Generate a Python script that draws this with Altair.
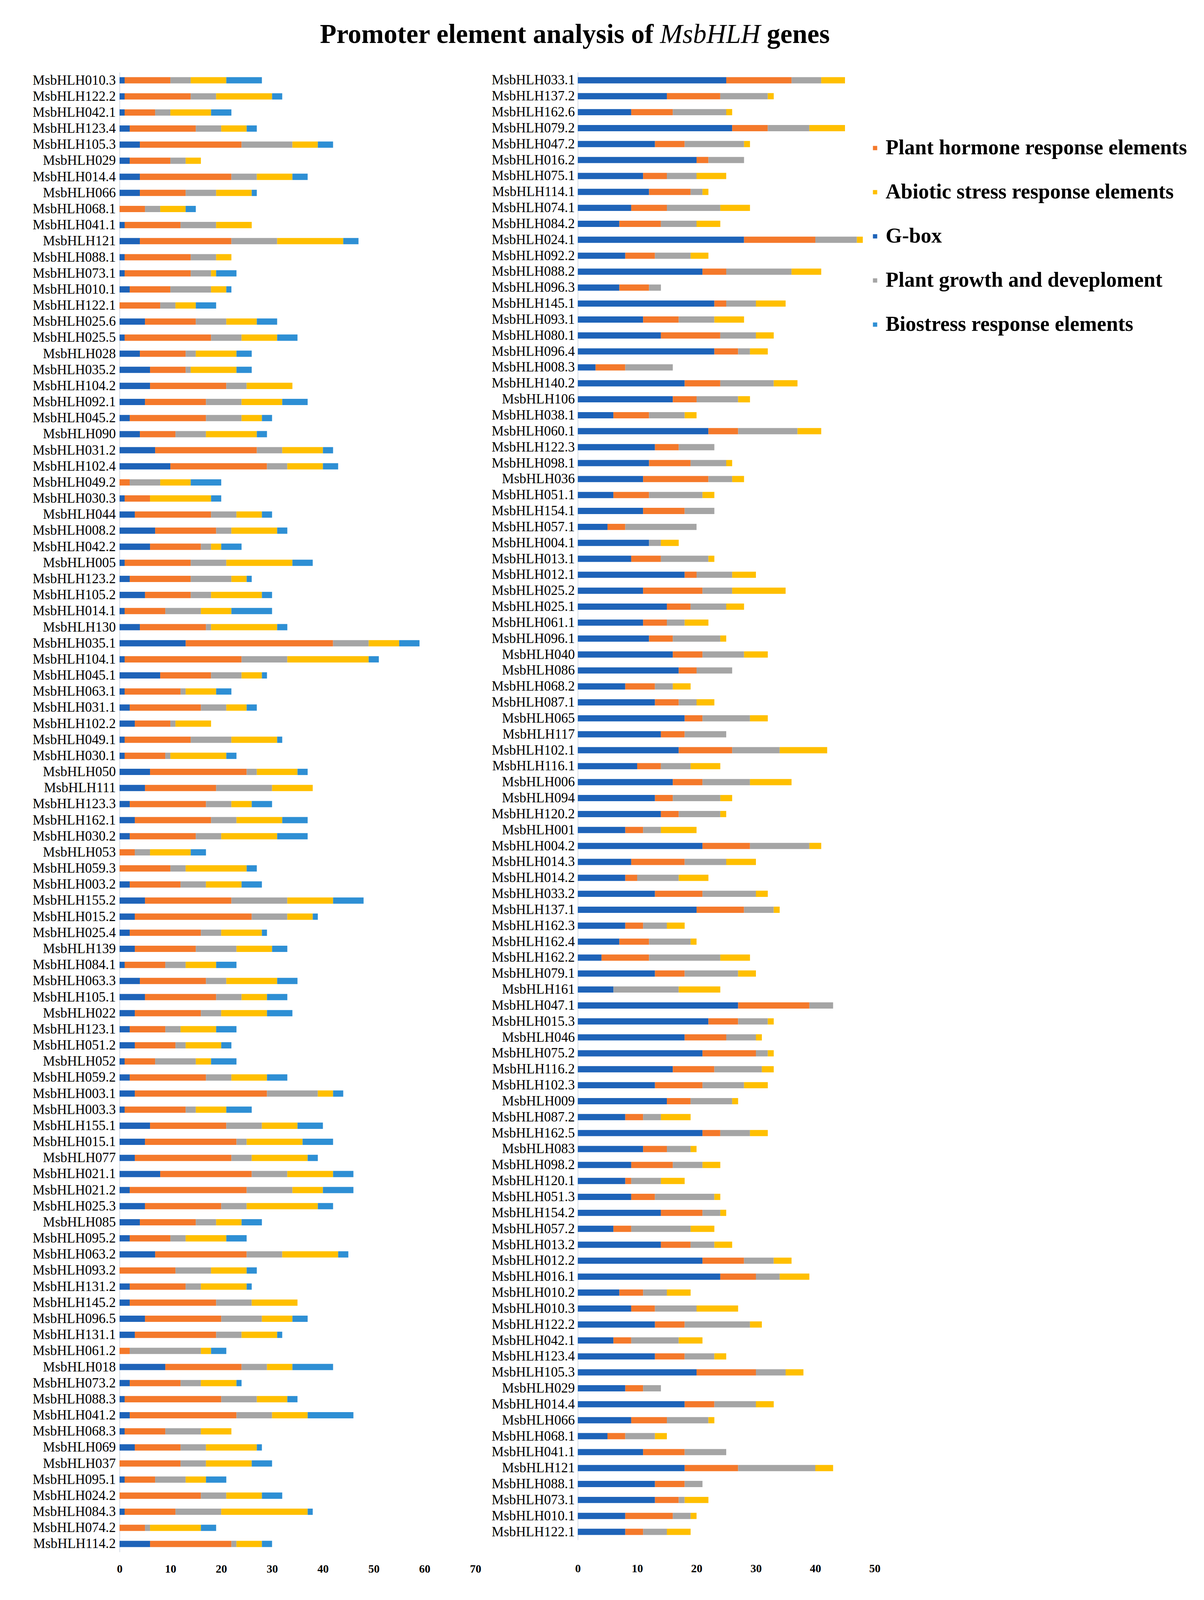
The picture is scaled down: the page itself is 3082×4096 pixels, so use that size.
import altair as alt
import pandas as pd

# ---------------- data ----------------
left_genes = ["MsbHLH010.3","MsbHLH122.2","MsbHLH042.1","MsbHLH123.4","MsbHLH105.3","MsbHLH029","MsbHLH014.4","MsbHLH066",
"MsbHLH068.1","MsbHLH041.1","MsbHLH121","MsbHLH088.1","MsbHLH073.1","MsbHLH010.1","MsbHLH122.1","MsbHLH025.6",
"MsbHLH025.5","MsbHLH028","MsbHLH035.2","MsbHLH104.2","MsbHLH092.1","MsbHLH045.2","MsbHLH090","MsbHLH031.2",
"MsbHLH102.4","MsbHLH049.2","MsbHLH030.3","MsbHLH044","MsbHLH008.2","MsbHLH042.2","MsbHLH005","MsbHLH123.2",
"MsbHLH105.2","MsbHLH014.1","MsbHLH130","MsbHLH035.1","MsbHLH104.1","MsbHLH045.1","MsbHLH063.1","MsbHLH031.1",
"MsbHLH102.2","MsbHLH049.1","MsbHLH030.1","MsbHLH050","MsbHLH111","MsbHLH123.3","MsbHLH162.1","MsbHLH030.2",
"MsbHLH053","MsbHLH059.3","MsbHLH003.2","MsbHLH155.2","MsbHLH015.2","MsbHLH025.4","MsbHLH139","MsbHLH084.1",
"MsbHLH063.3","MsbHLH105.1","MsbHLH022","MsbHLH123.1","MsbHLH051.2","MsbHLH052","MsbHLH059.2","MsbHLH003.1",
"MsbHLH003.3","MsbHLH155.1","MsbHLH015.1","MsbHLH077","MsbHLH021.1","MsbHLH021.2","MsbHLH025.3","MsbHLH085",
"MsbHLH095.2","MsbHLH063.2","MsbHLH093.2","MsbHLH131.2","MsbHLH145.2","MsbHLH096.5","MsbHLH131.1","MsbHLH061.2",
"MsbHLH018","MsbHLH073.2","MsbHLH088.3","MsbHLH041.2","MsbHLH068.3","MsbHLH069","MsbHLH037","MsbHLH095.1",
"MsbHLH024.2","MsbHLH084.3","MsbHLH074.2","MsbHLH114.2"]
left_gbox = [1,1,1,2,4,2,4,4,0,1,4,1,1,2,0,5,1,4,6,6,5,2,4,7,10,0,1,3,7,6,1,2,5,1,4,13,1,8,1,2,3,1,1,6,5,2,3,2,
             0,0,2,5,3,2,3,1,4,5,3,2,3,1,2,3,1,6,5,3,8,2,5,4,2,7,0,2,2,5,3,0,9,2,1,2,1,3,0,1,0,1,0,6]
left_hormone = [9,13,6,13,20,8,18,9,5,11,18,13,13,8,8,10,17,9,7,15,12,15,7,20,19,2,5,15,12,10,13,12,9,8,13,29,23,10,11,14,
                7,13,8,19,14,15,15,13,3,10,10,17,23,14,12,8,13,14,13,7,8,6,15,26,12,15,18,19,18,23,15,11,8,18,11,11,
                17,15,16,2,15,10,19,21,8,9,12,6,16,10,5,16]
left_growth = [4,5,3,5,10,3,5,6,3,7,9,5,4,8,3,6,6,2,1,4,7,7,6,5,4,6,0,5,3,2,7,8,4,7,1,7,9,6,1,5,1,8,1,2,11,5,5,5,
               3,3,5,11,7,4,8,4,4,5,4,3,2,8,5,10,2,7,2,4,7,9,5,4,3,7,7,3,7,8,5,14,5,4,7,7,7,5,5,6,5,9,1,1]
left_abiotic = [7,11,8,5,5,3,7,7,5,7,13,3,1,3,4,6,7,8,9,9,8,4,10,8,7,6,12,5,9,2,13,3,10,6,13,6,16,4,6,4,7,9,11,8,8,
                4,9,11,8,12,7,9,5,8,7,6,10,5,9,7,7,3,7,3,6,7,11,11,9,6,14,5,8,11,7,9,9,6,7,2,5,7,6,7,6,10,9,4,7,17,10,5]
left_biotic = [7,2,4,2,3,0,3,1,2,0,3,0,4,1,4,4,4,3,3,0,5,2,2,2,3,6,2,2,2,4,4,1,2,8,2,4,2,1,3,2,0,1,2,2,0,4,5,6,
               3,2,4,6,1,1,3,4,4,4,5,4,2,5,4,2,5,5,6,2,4,6,3,4,4,2,2,1,0,3,1,3,8,1,2,9,0,1,4,4,4,1,3,2]

right_genes = ["MsbHLH033.1","MsbHLH137.2","MsbHLH162.6","MsbHLH079.2","MsbHLH047.2","MsbHLH016.2","MsbHLH075.1",
"MsbHLH114.1","MsbHLH074.1","MsbHLH084.2","MsbHLH024.1","MsbHLH092.2","MsbHLH088.2","MsbHLH096.3","MsbHLH145.1",
"MsbHLH093.1","MsbHLH080.1","MsbHLH096.4","MsbHLH008.3","MsbHLH140.2","MsbHLH106","MsbHLH038.1","MsbHLH060.1",
"MsbHLH122.3","MsbHLH098.1","MsbHLH036","MsbHLH051.1","MsbHLH154.1","MsbHLH057.1","MsbHLH004.1","MsbHLH013.1",
"MsbHLH012.1","MsbHLH025.2","MsbHLH025.1","MsbHLH061.1","MsbHLH096.1","MsbHLH040","MsbHLH086","MsbHLH068.2",
"MsbHLH087.1","MsbHLH065","MsbHLH117","MsbHLH102.1","MsbHLH116.1","MsbHLH006","MsbHLH094","MsbHLH120.2",
"MsbHLH001","MsbHLH004.2","MsbHLH014.3","MsbHLH014.2","MsbHLH033.2","MsbHLH137.1","MsbHLH162.3","MsbHLH162.4",
"MsbHLH162.2","MsbHLH079.1","MsbHLH161","MsbHLH047.1","MsbHLH015.3","MsbHLH046","MsbHLH075.2","MsbHLH116.2",
"MsbHLH102.3","MsbHLH009","MsbHLH087.2","MsbHLH162.5","MsbHLH083","MsbHLH098.2","MsbHLH120.1","MsbHLH051.3",
"MsbHLH154.2","MsbHLH057.2","MsbHLH013.2","MsbHLH012.2","MsbHLH016.1","MsbHLH010.2","MsbHLH010.3","MsbHLH122.2",
"MsbHLH042.1","MsbHLH123.4","MsbHLH105.3","MsbHLH029","MsbHLH014.4","MsbHLH066","MsbHLH068.1","MsbHLH041.1",
"MsbHLH121","MsbHLH088.1","MsbHLH073.1","MsbHLH010.1","MsbHLH122.1"]
right_gbox = [25,15,9,26,13,20,11,12,9,7,28,8,21,7,23,11,14,23,3,18,16,6,22,13,12,11,6,11,5,12,9,18,11,15,11,12,
              16,17,8,13,18,14,17,10,16,13,14,8,21,9,8,13,20,8,7,4,13,6,27,22,18,21,16,13,15,8,21,11,9,8,9,14,6,
              14,21,24,7,9,13,6,13,20,8,18,9,5,11,18,13,13,8,8]
right_hormone = [11,9,7,6,5,2,4,7,6,7,12,5,4,5,2,6,10,4,5,6,4,6,5,4,7,11,6,7,3,0,5,2,10,4,4,4,5,3,5,4,3,4,9,4,5,3,
                 3,3,8,9,2,8,8,3,5,8,5,0,12,5,7,9,7,8,4,3,3,4,7,1,4,7,3,5,7,6,4,4,5,3,5,10,3,5,6,3,7,9,5,4,8,3]
right_growth = [5,8,9,7,10,6,5,2,9,6,7,6,11,2,5,6,6,2,8,9,7,6,10,6,6,4,9,5,12,2,8,6,5,6,3,8,7,6,3,3,8,7,8,5,8,8,
                7,3,10,7,7,9,5,4,7,12,9,11,4,5,5,2,8,7,7,3,5,4,5,5,10,3,10,4,5,4,4,7,11,8,5,5,3,7,7,5,7,13,3,1,3,4]
right_abiotic = [4,1,1,6,1,0,5,1,5,4,1,3,5,0,5,5,3,3,0,4,2,2,4,0,1,2,2,0,0,3,1,4,9,3,4,1,4,0,3,3,3,0,8,5,7,2,
                 1,6,2,5,5,2,1,3,1,5,3,7,0,1,1,1,2,4,1,5,3,1,3,4,1,1,4,3,3,5,4,7,2,4,2,3,0,3,1,2,0,3,0,4,1,4]

categories = ["G-box", "Plant hormone response elements", "Plant growth and deveploment",
              "Abiotic stress response elements", "Biostress response elements"]
legend_order = ["Plant hormone response elements", "Abiotic stress response elements", "G-box",
                "Plant growth and deveploment", "Biostress response elements"]
legend_colors = ["#F4792B", "#FFBF00", "#1E63B8", "#A5A5A5", "#2E8FD4"]


def long_table(genes, series):
    rows = []
    for i, g in enumerate(genes):
        for k, (cat, vals) in enumerate(zip(categories, series)):
            if vals[i] > 0:
                rows.append({"gene": g, "category": cat, "value": vals[i], "ord": k})
    return pd.DataFrame(rows)


left_df = long_table(left_genes, [left_gbox, left_hormone, left_growth, left_abiotic, left_biotic])
right_df = long_table(right_genes, [right_gbox, right_hormone, right_growth, right_abiotic])

FONT = "Liberation Serif"

legend = alt.Legend(
    title=None, orient="none", legendX=1895, legendY=167, direction="vertical",
    labelFont=FONT, labelFontWeight="bold", labelFontSize=54, labelColor="black",
    labelLimit=2000, labelOffset=0, labelBaseline="middle",
    symbolType="square", symbolSize=121, symbolStrokeWidth=0, symbolOffset=12,
    rowPadding=59, padding=0,
)


def panel(df, genes, xmax, width, height, x_label_pad, y_label_pad):
    return alt.Chart(df).mark_bar().encode(
        x=alt.X("value:Q", stack="zero",
                scale=alt.Scale(domain=[0, xmax], nice=False, zero=True),
                axis=alt.Axis(values=list(range(0, xmax + 1, 10)), title=None, grid=False,
                              domain=False, ticks=False, tickSize=0, labelFont=FONT,
                              labelFontWeight="bold", labelFontSize=29, labelColor="black",
                              labelPadding=x_label_pad, labelFlush=False)),
        y=alt.Y("gene:N", sort=genes,
                scale=alt.Scale(paddingInner=0.61, paddingOuter=0.305),
                axis=alt.Axis(title=None, ticks=False, tickSize=0, grid=False,
                              domainColor="#CCD4E0", domainWidth=1.6,
                              labelFont=FONT, labelFontSize=35, labelColor="black",
                              labelPadding=y_label_pad, labelLimit=0)),
        color=alt.Color("category:N",
                        scale=alt.Scale(domain=legend_order, range=legend_colors),
                        legend=legend),
        order=alt.Order("ord:Q", sort="ascending"),
    ).properties(width=width, height=height)


left_bars = panel(left_df, left_genes, 70, 911, 3788, 29, 10)
right_bars = panel(right_df, right_genes, 50, 760, 3757, 59, 8)

# title pieces (bold / italic / bold)
t1 = alt.Chart(pd.DataFrame({"t": ["Promoter element analysis of"]})).mark_text(
    font=FONT, fontSize=69, fontWeight="bold", align="right", baseline="alphabetic", color="black"
).encode(text="t:N", x=alt.value(1367), y=alt.value(-75))
t2 = alt.Chart(pd.DataFrame({"t": ["MsbHLH"]})).mark_text(
    font=FONT, fontSize=69, fontStyle="italic", fontWeight="normal", align="center",
    baseline="alphabetic", color="black"
).encode(text="t:N", x=alt.value(1512), y=alt.value(-75))
t3 = alt.Chart(pd.DataFrame({"t": ["genes"]})).mark_text(
    font=FONT, fontSize=69, fontWeight="bold", align="left", baseline="alphabetic", color="black"
).encode(text="t:N", x=alt.value(1657), y=alt.value(-75))

left = alt.layer(left_bars, t1, t2, t3)

chart = alt.hconcat(left, right_bars, spacing=262, bounds="flush").resolve_scale(
    x="independent", y="independent", color="shared"
).properties(
    padding={"left": 75, "top": 47, "right": 10, "bottom": 10},
    background="white",
).configure_view(stroke=None)

chart.save("out.html", embed_options={"renderer": "svg", "actions": False})
